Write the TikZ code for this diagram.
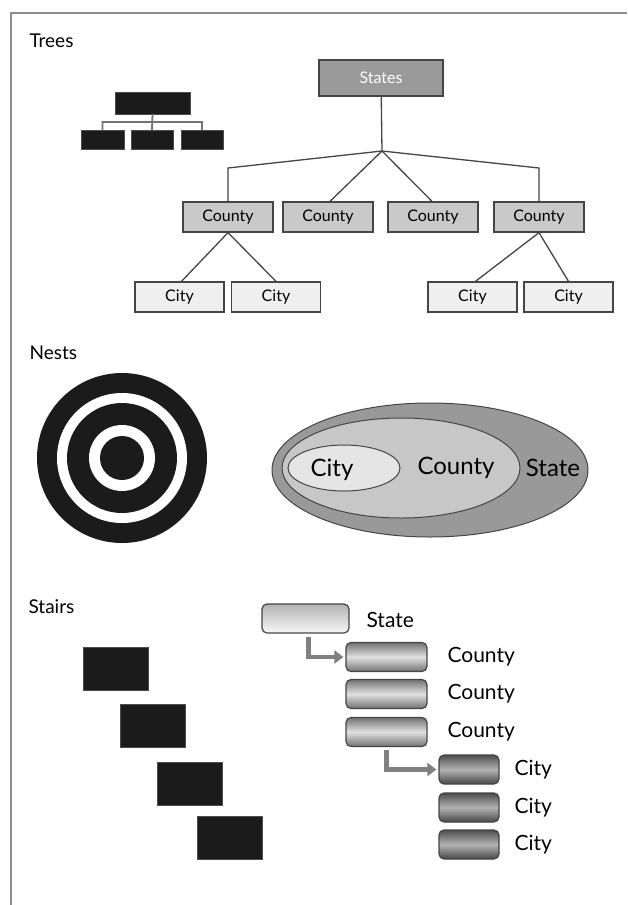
\documentclass[tikz,border=0pt]{standalone}
\usepackage{fontspec}
\setmainfont{Lato}
\usetikzlibrary{arrows.meta}
\definecolor{boxline}{HTML}{454545}
\definecolor{stategray}{HTML}{9A9A9A}
\definecolor{countygray}{HTML}{C9C9C9}
\definecolor{citygray}{HTML}{EFEFEF}
\definecolor{ink}{HTML}{1B1B1B}
\tikzset{
 heading/.style={anchor=base west,font=\fontsize{19}{21}\selectfont},
 treebox/.style={draw=boxline,line width=1.3pt,inner sep=0pt,minimum height=30pt,font=\fontsize{16}{18}\selectfont},
 iconbox/.style={fill=ink,draw=black!70,inner sep=0pt},
 stairbox/.style={draw=boxline,line width=1.2pt,rounded corners=5pt,inner sep=0pt,minimum height=29pt},
 stairlabel/.style={anchor=west,font=\fontsize{21}{23}\selectfont},
 nestlabel/.style={font=\fontsize{24}{26}\selectfont},
 stairarrow/.style={draw=black!50,line width=4.5pt,-{Triangle[length=9pt,width=13pt]}}
}
\begin{document}
\begin{tikzpicture}[x=1pt,y=-1pt]
 \useasboundingbox[fill=white] (0,0) rectangle (627,905);
 \draw[black!45,line width=2pt] (627,13) -- (11,13) -- (11,905);
 % Trees
 \node[heading] (htrees) at (26,47) {Trees};
 \node[iconbox,minimum width=75pt,minimum height=22pt] (ia) at (152.5,103) {};
 \node[iconbox,minimum width=43pt,minimum height=19pt] (ib1) at (102.5,139.5) {};
 \node[iconbox,minimum width=42pt,minimum height=19pt] (ib2) at (152,139.5) {};
 \node[iconbox,minimum width=42pt,minimum height=19pt] (ib3) at (202,139.5) {};
 \coordinate (ibar) at (152.5,122);
 \draw[black!55,line width=1.8pt] (ia.south) -- (ib2.north) (ib1.north) |- (ibar) -| (ib3.north);
 \node[treebox,fill=stategray,text=white,minimum width=124pt,minimum height=36pt] (states) at (381,78) {States};
 \def\cy{217}
 \node[treebox,fill=countygray,minimum width=90pt] (c1) at (228,\cy) {County};
 \node[treebox,fill=countygray,minimum width=90pt] (c2) at (328,\cy) {County};
 \node[treebox,fill=countygray,minimum width=90pt] (c3) at (433,\cy) {County};
 \node[treebox,fill=countygray,minimum width=90pt] (c4) at (539,\cy) {County};
 \def\ty{297}
 \node[treebox,fill=citygray,minimum width=89pt] (t1) at (179.5,\ty) {City};
 \node[treebox,fill=citygray,minimum width=89pt] (t2) at (276,\ty) {City};
 \node[treebox,fill=citygray,minimum width=89pt] (t3) at (472.5,\ty) {City};
 \node[treebox,fill=citygray,minimum width=89pt] (t4) at (568.5,\ty) {City};
 \coordinate (j) at (382,151);
 \coordinate (jl) at (228,168);
 \coordinate (jr) at (539,168);
 \draw[boxline,line width=1.3pt] (states) -- (j) (j) -- (jl) -- (c1) (j) -- ([xshift=2pt]c2.north) (j) -- ([xshift=-1pt]c3.north) (j) -- (jr) -- (c4);
 \draw[boxline,line width=1.3pt] (c1.south) -- ([xshift=2pt]t1.north) (c1.south) -- (t2.north) (c4.south) -- ([xshift=3pt]t3.north) (c4.south) -- (t4.north);
 % Nests
 \node[heading] (hnests) at (26,359) {Nests};
 \fill[ink] (122,458) circle[radius=85pt];
 \fill[white] (122,458) circle[radius=65pt];
 \fill[ink] (122,458) circle[radius=55pt];
 \fill[white] (122,458) circle[radius=33pt];
 \fill[ink] (122,458) circle[radius=22pt];
 \draw[boxline,line width=1pt,fill=black!40] (430,470) ellipse[x radius=158pt,y radius=67pt];
 \draw[boxline,line width=1pt,fill=black!22] (401,468) ellipse[x radius=119pt,y radius=50pt];
 \draw[boxline,line width=1pt,fill=black!10] (344,468) ellipse[x radius=56pt,y radius=23pt];
 \node[nestlabel] (ncity) at (332,470) {City};
 \node[nestlabel] (ncounty) at (456,468) {County};
 \node[nestlabel] (nstate) at (553,468) {State};
 % Stairs
 \node[heading] (hstairs) at (25,613) {Stairs};
 \foreach \i/\x/\y in {1/115.5/668.5,2/152.5/725.5,3/189.5/783.5,4/230/838}
  \node[iconbox,minimum width=65pt,minimum height=43pt] (blk\i) at (\x,\y) {};
 \node[stairbox,top color=black!30,bottom color=black!3,minimum width=87pt] (sstate) at (305.5,618.5) {};
 \node[stairlabel] (lstate) at (363,620) {State};
 \foreach \i/\y in {1/657,2/694,3/732}{
  \node[stairbox,top color=black!55,bottom color=black!55,middle color=black!12,minimum width=81pt] (sc\i) at (386.5,\y) {};
  \node[stairlabel] (lc\i) at (444,\y) {County};
 }
 \foreach \i/\y in {1/769.5,2/807.5,3/844.5}{
  \node[stairbox,top color=black!70,bottom color=black!72,middle color=black!30,minimum width=60pt] (st\i) at (469,\y) {};
  \node[stairlabel] (lt\i) at (511,\y) {City};
 }
 \draw[stairarrow,shorten >=2pt] ([xshift=3pt,yshift=-3pt]sstate.south) |- (sc1.west);
 \draw[stairarrow,shorten >=2pt] ([yshift=-3pt]sc3.south) |- (st1.west);
\end{tikzpicture}
\end{document}
